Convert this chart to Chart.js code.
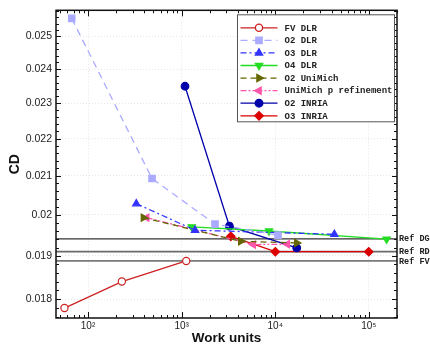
<!DOCTYPE html>
<html>
<head>
<meta charset="utf-8">
<script src="https://cdn.jsdelivr.net/npm/chart.js@4.4.0/dist/chart.umd.min.js"></script>
<style>
  html, body { margin: 0; padding: 0; background: #fff; }
  canvas { display: block; }
</style>
</head>
<body>
<canvas id="cdChart" width="430" height="346"></canvas>
<script>
// work units (x) and CD (y) for every series
const fvDlrX = [56, 230, 1120];
const fvDlrY = [0.0178, 0.0184, 0.01888];
const o2DlrX = [67, 483, 2275, 10720];
const o2DlrY = [0.02557, 0.02093, 0.01977, 0.0195];
const o3DlrX = [328, 1390, 42800];
const o3DlrY = [0.02028, 0.01962, 0.01952];
const o4DlrX = [1282, 8590, 155000];
const o4DlrY = [0.0197, 0.0196, 0.0194];
const o2UniMichX = [390, 4280, 16980];
const o2UniMichY = [0.01993, 0.01935, 0.01931];
const pRefX = [424, 5840, 13460];
const pRefY = [0.01993, 0.01927, 0.01928];
const o2InriaX = [1087, 3240, 16980];
const o2InriaY = [0.02349, 0.01972, 0.01919];
const o3InriaX = [3350, 10030, 99800];
const o3InriaY = [0.01947, 0.0191, 0.0191];

// reference values (horizontal lines)
const refNames = ['Ref DG', 'Ref RD', 'Ref FV'];
const refValues = [0.01941, 0.0191, 0.01888];

const xTicks = [100, 1000, 10000, 100000];
const xTickLabels = ['10\u00B2', '10\u00B3', '10\u2074', '10\u2075'];
const yTicks = [0.018, 0.019, 0.02, 0.021, 0.022, 0.023, 0.024, 0.025];

const pts = (xs, ys) => xs.map((x, i) => ({ x: x, y: ys[i] }));

const series = [
  { label: 'FV DLR', data: pts(fvDlrX, fvDlrY), color: '#cc2222', fill: '#ffffff', style: 'circle', rot: 0, r: 3.6, dash: [] },
  { label: 'O2 DLR', data: pts(o2DlrX, o2DlrY), color: '#aaaaff', fill: '#aaaaff', style: 'rect', rot: 0, r: 4.5, dash: [7, 5] },
  { label: 'O3 DLR', data: pts(o3DlrX, o3DlrY), color: '#3333ff', fill: '#3333ff', style: 'triangle', rot: 0, r: 4.2, dash: [6, 3, 2, 3] },
  { label: 'O4 DLR', data: pts(o4DlrX, o4DlrY), color: '#22dd22', fill: '#22dd22', style: 'triangle', rot: 180, r: 4.2, dash: [] },
  { label: 'O2 UniMich', data: pts(o2UniMichX, o2UniMichY), color: '#666600', fill: '#666600', style: 'triangle', rot: 90, r: 4.2, dash: [6, 4] },
  { label: 'UniMich p refinement', data: pts(pRefX, pRefY), color: '#ff55aa', fill: '#ff55aa', style: 'triangle', rot: 270, r: 4.2, dash: [6, 2, 2, 2, 2, 2] },
  { label: 'O2 INRIA', data: pts(o2InriaX, o2InriaY), color: '#0000aa', fill: '#0000aa', style: 'circle', rot: 0, r: 3.8, dash: [] },
  { label: 'O3 INRIA', data: pts(o3InriaX, o3InriaY), color: '#dd0000', fill: '#dd0000', style: 'rectRot', rot: 0, r: 4.2, dash: [] }
];

const monoFont = '"Liberation Mono", "DejaVu Sans Mono", monospace';
const sansFont = '"Liberation Sans", Arial, sans-serif';

// reference lines + their labels on the right side
const refLinesPlugin = {
  id: 'refLines',
  beforeDatasetsDraw(chart) {
    const { ctx, chartArea: a, scales: { y } } = chart;
    const colors = ['#333333', '#6a6a6a', '#7a7a7a'];
    const widths = [1.3, 1.8, 1.8];
    ctx.save();
    refValues.forEach((v, i) => {
      const py = y.getPixelForValue(v);
      ctx.strokeStyle = colors[i];
      ctx.lineWidth = widths[i];
      ctx.beginPath();
      ctx.moveTo(a.left, py);
      ctx.lineTo(a.right, py);
      ctx.stroke();
      ctx.fillStyle = '#222';
      ctx.font = 'bold 8.5px ' + monoFont;
      ctx.textBaseline = 'middle';
      ctx.fillText(refNames[i], a.right + 2, py + 0.5);
    });
    ctx.restore();
  }
};

// frame with inward tick marks on all four sides
const frameTicksPlugin = {
  id: 'frameTicks',
  afterDatasetsDraw(chart) {
    const { ctx, chartArea: a, scales: { x, y } } = chart;
    ctx.save();
    ctx.strokeStyle = '#111';
    ctx.lineWidth = 1;
    const tick = (x1, y1, x2, y2) => {
      ctx.beginPath();
      ctx.moveTo(x1, y1);
      ctx.lineTo(x2, y2);
      ctx.stroke();
    };
    // x: decades and their 2..9 minors
    for (let d = 10; d <= 1e5; d *= 10) {
      for (let m = 1; m <= 9; m++) {
        const v = d * m;
        if (v < x.min || v > x.max) continue;
        const px = Math.round(x.getPixelForValue(v)) + 0.5;
        const len = m === 1 ? 6 : 3;
        tick(px, a.bottom, px, a.bottom - len);
        tick(px, a.top, px, a.top + len);
      }
    }
    // y: minors every 0.0002, majors every 0.001
    for (let k = 88; k <= 129; k++) {
      const v = k * 0.0002;
      if (v < y.min || v > y.max) continue;
      const py = Math.round(y.getPixelForValue(v)) + 0.5;
      const len = k % 5 === 0 ? 5 : 3;
      tick(a.left, py, a.left + len, py);
      tick(a.right, py, a.right - len, py);
    }
    ctx.lineWidth = 1.5;
    ctx.strokeRect(a.left, a.top, a.right - a.left, a.bottom - a.top);
    ctx.restore();
  }
};

// boxed legend in the upper right corner of the plot
const boxLegendPlugin = {
  id: 'boxLegend',
  afterDraw(chart) {
    const { ctx, chartArea: a } = chart;
    const left = a.right - 159.5;
    const top = a.top + 4.5;
    const w = 157;
    const h = 107;
    ctx.save();
    ctx.fillStyle = '#fff';
    ctx.fillRect(left, top, w, h);
    ctx.strokeStyle = '#555';
    ctx.lineWidth = 1;
    ctx.strokeRect(left, top, w, h);
    ctx.font = 'bold 9px ' + monoFont;
    ctx.textBaseline = 'middle';
    chart.data.datasets.forEach((ds, i) => {
      const cy = top + 13 + i * 12.57;
      ctx.strokeStyle = ds.borderColor;
      ctx.lineWidth = ds.borderWidth;
      ctx.setLineDash(ds.borderDash);
      ctx.beginPath();
      ctx.moveTo(left + 3, cy);
      ctx.lineTo(left + 40, cy);
      ctx.stroke();
      ctx.setLineDash([]);
      ctx.fillStyle = ds.pointBackgroundColor;
      ctx.strokeStyle = ds.pointBorderColor;
      Chart.helpers.drawPoint(ctx, {
        pointStyle: ds.pointStyle,
        rotation: ds.pointRotation,
        radius: ds.pointRadius,
        borderWidth: ds.pointBorderWidth
      }, left + 21.5, cy);
      ctx.fillStyle = '#222';
      ctx.fillText(ds.label, left + 47, cy + 0.5);
    });
    ctx.restore();
  }
};

new Chart(document.getElementById('cdChart'), {
  type: 'scatter',
  data: {
    datasets: series.map(s => ({
      label: s.label,
      data: s.data,
      showLine: true,
      borderColor: s.color,
      borderWidth: 1.3,
      borderDash: s.dash,
      pointStyle: s.style,
      pointRotation: s.rot,
      pointRadius: s.r,
      pointBorderWidth: 1.2,
      pointBackgroundColor: s.fill,
      pointBorderColor: s.color,
      tension: 0
    }))
  },
  options: {
    responsive: false,
    animation: false,
    layout: { padding: { top: 7, right: 33, left: 0, bottom: 0 } },
    plugins: { legend: { display: false }, tooltip: { enabled: false } },
    scales: {
      x: {
        type: 'logarithmic',
        min: 45.5,
        max: 200000,
        afterBuildTicks: s => { s.ticks = xTicks.map(v => ({ value: v })); },
        afterFit: s => { s.height = 28; },
        ticks: {
          autoSkip: false,
          maxRotation: 0,
          padding: 2,
          color: '#222',
          font: { family: sansFont, size: 10 },
          callback: (v, i) => xTickLabels[i]
        },
        grid: { color: '#e6e6e6', drawTicks: false },
        border: { display: false, dash: [1, 2] },
        title: {
          display: true,
          text: 'Work units',
          color: '#111',
          font: { family: sansFont, size: 13.5, weight: 'bold' },
          padding: { top: 0, bottom: 0 }
        }
      },
      y: {
        type: 'logarithmic',
        min: 0.01758,
        max: 0.02583,
        afterBuildTicks: s => { s.ticks = yTicks.map(v => ({ value: v })); },
        afterFit: s => { s.width = 56; },
        ticks: {
          autoSkip: false,
          padding: 4,
          color: '#222',
          font: { family: sansFont, size: 10.5 },
          callback: v => String(+Number(v).toFixed(3))
        },
        grid: { color: '#e6e6e6', drawTicks: false },
        border: { display: false, dash: [1, 2] },
        title: {
          display: true,
          text: 'CD',
          color: '#111',
          font: { family: sansFont, size: 14, weight: 'bold' },
          padding: { top: 7, bottom: 0 }
        }
      }
    }
  },
  plugins: [refLinesPlugin, frameTicksPlugin, boxLegendPlugin]
});
</script>
</body>
</html>
